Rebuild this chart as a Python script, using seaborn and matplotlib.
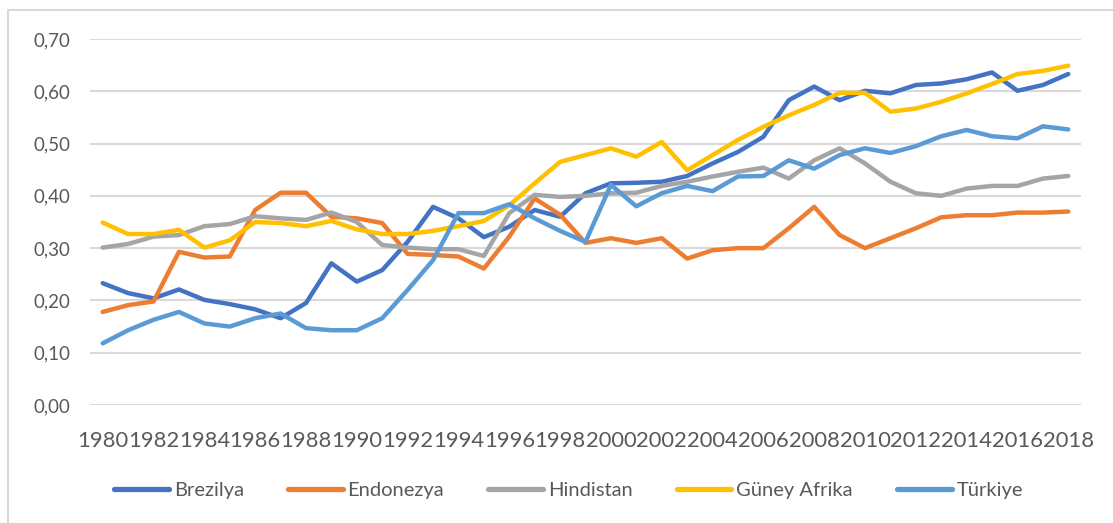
import pandas as pd
import matplotlib.pyplot as plt
import seaborn as sns
from matplotlib.patches import Rectangle
from matplotlib.ticker import FuncFormatter

years = list(range(1980, 2019))
brezilya = [0.233, 0.214, 0.204, 0.221, 0.201, 0.193, 0.183, 0.166, 0.195, 0.271,
            0.236, 0.258, 0.312, 0.379, 0.357, 0.321, 0.341, 0.373, 0.360, 0.405,
            0.424, 0.425, 0.427, 0.438, 0.462, 0.484, 0.513, 0.583, 0.609, 0.583,
            0.601, 0.596, 0.612, 0.615, 0.623, 0.636, 0.601, 0.612, 0.633]
endonezya = [0.178, 0.191, 0.198, 0.293, 0.282, 0.284, 0.373, 0.406, 0.406, 0.360,
             0.357, 0.348, 0.289, 0.287, 0.284, 0.261, 0.322, 0.395, 0.364, 0.310,
             0.319, 0.310, 0.319, 0.280, 0.296, 0.300, 0.300, 0.338, 0.379, 0.325,
             0.300, 0.319, 0.338, 0.359, 0.363, 0.363, 0.368, 0.368, 0.370]
hindistan = [0.301, 0.308, 0.322, 0.325, 0.342, 0.346, 0.361, 0.357, 0.354, 0.368,
             0.350, 0.306, 0.301, 0.298, 0.298, 0.285, 0.367, 0.402, 0.398, 0.400,
             0.405, 0.406, 0.419, 0.427, 0.437, 0.446, 0.454, 0.433, 0.468, 0.491,
             0.462, 0.427, 0.405, 0.400, 0.414, 0.419, 0.419, 0.433, 0.438]
guney_afrika = [0.349, 0.327, 0.327, 0.335, 0.301, 0.315, 0.350, 0.348, 0.342, 0.352,
                0.336, 0.327, 0.327, 0.333, 0.342, 0.352, 0.382, 0.424, 0.465, 0.478,
                0.491, 0.475, 0.503, 0.449, 0.478, 0.507, 0.532, 0.554, 0.574, 0.597,
                0.597, 0.561, 0.567, 0.580, 0.596, 0.614, 0.633, 0.639, 0.649]
turkiye = [0.118, 0.143, 0.163, 0.178, 0.156, 0.150, 0.166, 0.175, 0.147, 0.143,
           0.143, 0.166, 0.220, 0.277, 0.367, 0.367, 0.384, 0.357, 0.333, 0.312,
           0.421, 0.380, 0.405, 0.419, 0.409, 0.437, 0.438, 0.468, 0.452, 0.478,
           0.491, 0.482, 0.495, 0.514, 0.526, 0.514, 0.510, 0.533, 0.527]

series = {'Brezilya': brezilya, 'Endonezya': endonezya, 'Hindistan': hindistan,
          'Güney Afrika': guney_afrika, 'Türkiye': turkiye}
colors = ['#4472C4', '#ED7D31', '#A5A5A5', '#FFC000', '#5B9BD5']

rows = []
for name, vals in series.items():
    for y, v in zip(years, vals):
        rows.append({'Yil': y, 'Deger': v, 'Ulke': name})
df = pd.DataFrame(rows)

sns.set_style('white')
plt.rcParams['font.family'] = ['Lato', 'DejaVu Sans']
text_col = '#595959'

fig = plt.figure(figsize=(11.13, 5.23), dpi=100)
ax = fig.add_axes([90 / 1113, 1 - 405 / 523, 991 / 1113, 366 / 523])

sns.lineplot(data=df, x='Yil', y='Deger', hue='Ulke', palette=colors,
             linewidth=3.2, ax=ax, legend=False)

ax.set_xlim(1979.5, 2018.5)
ax.set_ylim(0, 0.70)
ax.set_yticks([i / 10 for i in range(8)])
ax.yaxis.set_major_formatter(FuncFormatter(lambda v, p: f'{v:.2f}'.replace('.', ',')))
ax.set_xticks(years[::2])
ax.set_xticklabels([str(y) for y in years[::2]])
ax.grid(axis='y', color='#D9D9D9', linewidth=1.5)
ax.set_axisbelow(True)
for s in ax.spines.values():
    s.set_visible(False)
ax.tick_params(axis='both', length=0, colors=text_col)
ax.tick_params(axis='y', pad=14, labelsize=13.5)
ax.tick_params(axis='x', pad=19, labelsize=15.8)
ax.set_xlabel('')
ax.set_ylabel('')

handles = [plt.Line2D([], [], color=c, linewidth=3.8) for c in colors]
leg = fig.legend(handles, list(series.keys()), loc='center', ncol=5,
                 bbox_to_anchor=(0.511, 1 - 490 / 523), frameon=False,
                 handlelength=2.7, columnspacing=2.2, handletextpad=0.25,
                 prop={'size': 14.5})
for t in leg.get_texts():
    t.set_color(text_col)

fig.patches.append(Rectangle((8 / 1113, -0.05), 1.2, 1 - 10 / 523 + 0.05,
                             transform=fig.transFigure, fill=False,
                             edgecolor='#D9D9D9', linewidth=1.5))

fig.savefig('out.png', dpi=100)
